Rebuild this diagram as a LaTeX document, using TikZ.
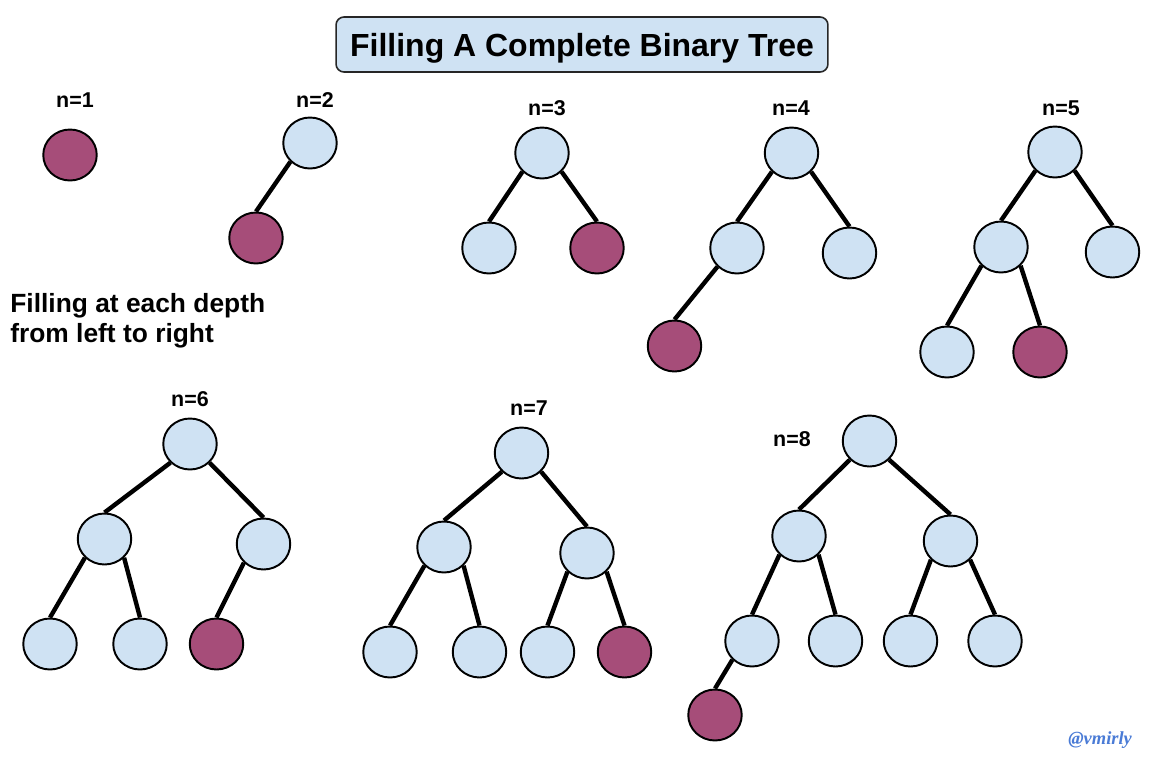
\documentclass[tikz,border=0pt]{standalone}
\usepackage{fontspec}
\usetikzlibrary{shapes.geometric}
\newfontfamily\labfont{Liberation Sans}
\newfontfamily\sigfont{Liberation Serif}
\definecolor{lb}{HTML}{CFE2F3}
\definecolor{mar}{HTML}{A64D79}
\definecolor{sig}{HTML}{4A7BD6}
\begin{document}
\begin{tikzpicture}[x=0.02cm,y=-0.02cm,
  tn/.style={ellipse,draw=black,line width=1.1pt,fill=lb,minimum width=1.07cm,minimum height=1.02cm,inner sep=0pt},
  rn/.style={tn,fill=mar},
  lk/.style={line width=2.5pt},
  lbl/.style={font=\labfont\bfseries\fontsize{12.2}{14}\selectfont,inner sep=0pt}]
\useasboundingbox[fill=white] (0,0) rectangle (1171,758);

% title
\node[draw=black!85,line width=0.9pt,rounded corners=4.5pt,fill=lb,minimum width=9.84cm,minimum height=1.1cm,inner sep=0pt,text depth=0pt,
  font=\labfont\bfseries\fontsize{18.2}{20}\selectfont] (title) at (582,44.5) {Filling A Complete Binary Tree};

\node[anchor=north west,align=left,inner sep=0pt,font=\labfont\bfseries\fontsize{15}{17}\selectfont] (note) at (10,293)
  {Filling at each depth\\from left to right};

\node[anchor=base west,inner sep=0pt,text=sig,font=\sigfont\bfseries\itshape\fontsize{10.5}{12}\selectfont] (sign) at (1068,744) {@vmirly};

% n=1
\node[lbl] (l1) at (75,100) {n=1};
\node[rn] (a1) at (70,155) {};

% n=2
\node[lbl] (l2) at (315,100) {n=2};
\node[tn] (b1) at (310,143) {};
\node[rn] (b2) at (256,238) {};
\draw[lk] (b1.south west) -- (b2.north);

% n=3
\node[lbl] (l3) at (547,108) {n=3};
\node[tn] (c1) at (542,153) {};
\node[tn] (c2) at (489,248) {};
\node[rn] (c3) at (597,248) {};
\draw[lk] (c1.south west) -- (c2.north);
\draw[lk] (c1.south east) -- (c3.north);

% n=4
\node[lbl] (l4) at (791,108) {n=4};
\node[tn] (d1) at (791.5,153) {};
\node[tn] (d2) at (737,248) {};
\node[tn] (d3) at (849.5,253) {};
\node[rn] (d4) at (674.5,346) {};
\draw[lk] (d1.south west) -- (d2.north);
\draw[lk] (d1.south east) -- (d3.north);
\draw[lk] (d2.south west) -- (d4.north);

% n=5
\node[lbl] (l5) at (1061,108) {n=5};
\node[tn] (e1) at (1055,152) {};
\node[tn] (e2) at (1001,247) {};
\node[tn] (e3) at (1112.5,252) {};
\node[tn] (e4) at (947,352) {};
\node[rn] (e5) at (1040,352) {};
\draw[lk] (e1.south west) -- (e2.north);
\draw[lk] (e1.south east) -- (e3.north);
\draw[lk] (e2.south west) -- (e4.north);
\draw[lk] (e2.south east) -- (e5.north);

% n=6
\node[lbl] (l6) at (190,399) {n=6};
\node[tn] (f1) at (190,444) {};
\node[tn] (f2) at (104.5,539) {};
\node[tn] (f3) at (263.5,544) {};
\node[tn] (f4) at (50,644) {};
\node[tn] (f5) at (140,644) {};
\node[rn] (f6) at (216.5,644) {};
\draw[lk] (f1.south west) -- (f2.north);
\draw[lk] (f1.south east) -- (f3.north);
\draw[lk] (f2.south west) -- (f4.north);
\draw[lk] (f2.south east) -- (f5.north);
\draw[lk] (f3.south west) -- (f6.north);

% n=7
\node[lbl] (l7) at (529,408) {n=7};
\node[tn] (g1) at (521.5,453) {};
\node[tn] (g2) at (444,547) {};
\node[tn] (g3) at (587,553) {};
\node[tn] (g4) at (390,652) {};
\node[tn] (g5) at (479.5,652) {};
\node[tn] (g6) at (547.5,652) {};
\node[rn] (g7) at (624.5,652) {};
\draw[lk] (g1.south west) -- (g2.north);
\draw[lk] (g1.south east) -- (g3.north);
\draw[lk] (g2.south west) -- (g4.north);
\draw[lk] (g2.south east) -- (g5.north);
\draw[lk] (g3.south west) -- (g6.north);
\draw[lk] (g3.south east) -- (g7.north);

% n=8
\node[lbl] (l8) at (792,439) {n=8};
\node[tn] (h1) at (869.5,441) {};
\node[tn] (h2) at (799,536) {};
\node[tn] (h3) at (950.5,541) {};
\node[tn] (h4) at (752,641) {};
\node[tn] (h5) at (835.5,641) {};
\node[tn] (h6) at (910.5,641) {};
\node[tn] (h7) at (995,641) {};
\node[rn] (h8) at (715,715) {};
\draw[lk] (h1.south west) -- (h2.north);
\draw[lk] (h1.south east) -- (h3.north);
\draw[lk] (h2.south west) -- (h4.north);
\draw[lk] (h2.south east) -- (h5.north);
\draw[lk] (h3.south west) -- (h6.north);
\draw[lk] (h3.south east) -- (h7.north);
\draw[lk] (h4.south west) -- (h8.north);
\end{tikzpicture}
\end{document}
